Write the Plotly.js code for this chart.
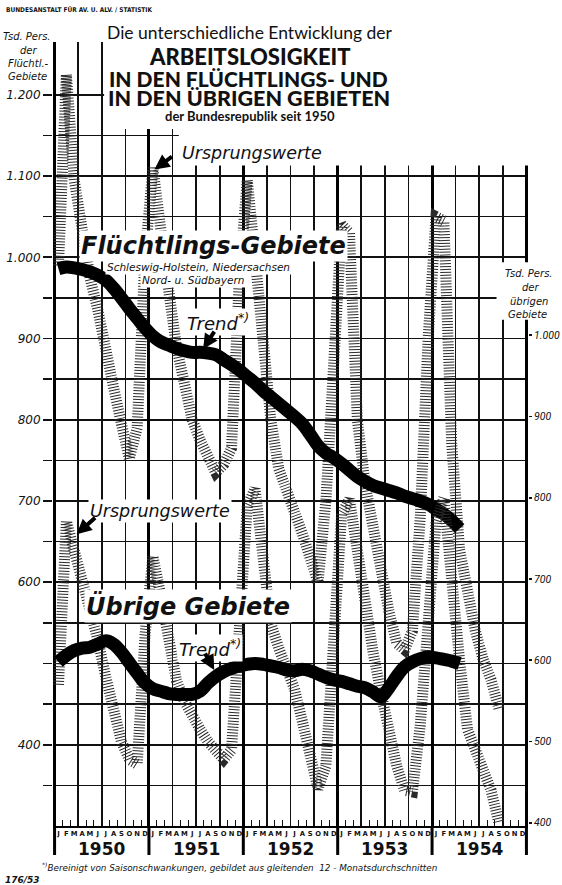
<!DOCTYPE html>
<html><head><meta charset="utf-8">
<script src="https://cdn.plot.ly/plotly-3.0.1.min.js"></script>
<style>html,body{margin:0;padding:0;background:#fff}#chart{width:562px;height:885px}</style>
</head><body><div id="chart"></div>
<script>
// ---- data (Tsd. Personen), monthly from Jan 1950 ----
const monthLetters = ['J','F','M','A','M','J','J','A','S','O','N','D'];
const years = ['1950','1951','1952','1953','1954'];

// Flüchtlings-Gebiete (left axis): original values Jan 1950 - Sep 1954
const fluechtOrig = [
 990,1225,1095,1030,975,935,880,840,795,752,790,1000,
 1110,1045,960,890,840,800,775,752,735,745,765,975,
 1095,1000,900,800,740,715,690,660,630,600,700,900,
 1040,1030,800,720,665,610,565,525,517,540,680,900,
 1050,1045,770,640,580,540,505,480,445];
// Flüchtlings-Gebiete trend (12-month moving average) Jan 1950 - Apr 1954
const fluechtTrend = [
 986,988,987,985,982,978,972,962,950,937,925,913,
 903,896,892,888,885,883,883,882,880,874,868,861,
 853,845,836,828,820,812,804,795,782,768,759,753,
 746,738,730,724,719,716,713,710,706,703,700,696,
 690,684,676,666];
// Übrige Gebiete (right axis): original values Jan 1950 - Sep 1954
const uebrigOrig = [
 570,771,735,700,670,625,580,535,500,478,472,630,
 728,680,620,575,550,530,515,500,487,478,490,650,
 790,811,720,645,615,592,565,525,485,442,470,650,
 780,798,730,660,610,560,510,470,440,438,520,660,
 770,800,690,600,515,485,465,440,400];
// Übrige Gebiete trend Jan 1950 - Apr 1954
const uebrigTrend = [
 598,606,612,615,616,620,624,620,610,597,584,572,
 565,562,559,558,558,558,562,572,580,586,590,593,
 595,596,595,593,591,588,587,589,587,583,579,576,
 574,571,568,566,561,555,566,580,592,598,602,604,
 603,601,599,596];

const leftTickVals  = [400,600,700,800,900,1000,1100,1200];
const leftTickText  = ['400','600','700','800','900','1.000','1.100','1.200'];
const rightTickVals = [400,500,600,700,800,900,1000];
const rightTickText = ['400','500','600','700','800','900','1.000'];

// ---- layout helpers ----
const W = 562, H = 885;
const M = {l: 53, r: 34, t: 42, b: 59};
const PW = W - M.l - M.r, PH = H - M.t - M.b;
const px = v => (v - M.l) / PW;
const py = v => (M.t + PH - v) / PH;
const nMonths = years.length * 12;
const xr = [-0.2, nMonths + 0.2];
const mx = arr => arr.map((_, i) => i + 0.5);

const ital = (size, extra) => Object.assign({family: 'DejaVu Sans', size: size, color: '#111', style: 'italic'}, extra || {});

// grid values for left axis every 50
const gridVals = [], gridText = [];
for (let v = 350; v <= 1200; v += 50) {
  gridVals.push(v);
  const k = leftTickVals.indexOf(v);
  gridText.push(k >= 0 ? leftTickText[k] : '');
}
const monthVals = [], monthText = [];
for (let i = 0; i < nMonths; i++) { monthVals.push(i + 0.5); monthText.push(monthLetters[i % 12]); }

const hatch = {color: '#2a2a2a', width: 11, dash: '1px,1.9px', shape: 'linear'};
const thick = {color: '#000', width: 13, shape: 'spline', smoothing: 1};

const traces = [
  {x: mx(fluechtOrig), y: fluechtOrig, xaxis: 'x', yaxis: 'y', mode: 'lines', line: hatch, hoverinfo: 'skip'},
  {x: mx(fluechtTrend), y: fluechtTrend, xaxis: 'x', yaxis: 'y', mode: 'lines', line: thick, hoverinfo: 'skip'},
  {x: mx(uebrigOrig), y: uebrigOrig, xaxis: 'x', yaxis: 'y2', mode: 'lines', line: hatch, hoverinfo: 'skip'},
  {x: mx(uebrigTrend), y: uebrigTrend, xaxis: 'x', yaxis: 'y2', mode: 'lines', line: thick, hoverinfo: 'skip'},
  {x: [], y: [], xaxis: 'x2', yaxis: 'y', mode: 'lines', hoverinfo: 'skip'},
  {x: [], y: [], xaxis: 'x3', yaxis: 'y', mode: 'lines', hoverinfo: 'skip'}
];

const ann = [];
const txt = (t, x, y, font, opts) => ann.push(Object.assign({text: t, xref: 'paper', yref: 'paper', x: px(x), y: py(y),
  xanchor: 'left', yanchor: 'middle', showarrow: false, font: font}, opts || {}));

txt('BUNDESANSTALT FÜR AV. U. ALV. / STATISTIK', 4, 10, {family: 'DejaVu Sans Condensed, DejaVu Sans', size: 6.5, weight: 'bold', color: '#111'});
const title = {family: 'Lato, DejaVu Sans', color: '#111'};
txt('Die unterschiedliche Entwicklung der', 250, 33, Object.assign({size: 17.5}, title), {xanchor: 'center'});
txt('ARBEITSLOSIGKEIT', 249, 57, Object.assign({size: 22, weight: 900}, title), {xanchor: 'center'});
txt('IN DEN FLÜCHTLINGS- UND', 248, 78, Object.assign({size: 21, weight: 900}, title), {xanchor: 'center'});
txt('IN DEN ÜBRIGEN GEBIETEN', 249, 98, Object.assign({size: 21.5, weight: 900}, title), {xanchor: 'center'});
txt('der Bundesrepublik seit 1950', 250, 116, Object.assign({size: 13, weight: 'bold'}, title), {xanchor: 'center'});

txt('Tsd. Pers.', 27, 37, ital(10), {xanchor: 'center'});
txt('der', 29, 50, ital(10), {xanchor: 'center'});
txt('Flüchtl.-', 28, 63, ital(10), {xanchor: 'center'});
txt('Gebiete', 27, 76, ital(10), {xanchor: 'center'});

txt('Tsd. Pers.', 529, 273, ital(10), {xanchor: 'center'});
txt('der', 531, 287, ital(10), {xanchor: 'center'});
txt('übrigen', 529, 301, ital(10), {xanchor: 'center'});
txt('Gebiete', 527, 314, ital(10), {xanchor: 'center'});

const wb = {bgcolor: '#fff', borderpad: 1};
txt('Flüchtlings-Gebiete', 79, 246, ital(24, {weight: 'bold'}), wb);
txt('Schleswig-Holstein, Niedersachsen', 105, 267, ital(10.5), wb);
txt('Nord- u. Südbayern', 140, 280, ital(10.5), wb);
txt('Ursprungswerte', 180, 153, ital(17.5), wb);
txt('Trend<sup>*)</sup>', 185, 322, ital(18), wb);
txt('Ursprungswerte', 88, 511, ital(17.5), wb);
txt('Übrige Gebiete', 84, 606, ital(24, {weight: 'bold'}), wb);
txt('Trend<sup>*)</sup>', 177, 648, ital(18), wb);
txt('<sup>*)</sup>Bereinigt von Saisonschwankungen, gebildet aus gleitenden  12 - Monatsdurchschnitten', 40, 867, ital(8.8));
txt('176/53', 3, 880, ital(9, {weight: 'bold'}));

// year labels through the x scale
years.forEach((yr, k) => ann.push({text: yr, xref: 'x', yref: 'paper', x: k * 12 + 6, y: py(849),
  xanchor: 'center', yanchor: 'middle', showarrow: false, font: {family: 'DejaVu Sans', size: 17, weight: 'bold', color: '#111'}}));

// arrows
const arrow = (x, y, yref, ax, ay) => ann.push({text: '', xref: 'x', yref: yref, x: x, y: y, ax: ax, ay: ay,
  showarrow: true, arrowhead: 2, arrowsize: 0.75, arrowwidth: 4, arrowcolor: '#000'});
arrow(12.7, 1108, 'y', 19, -14);
arrow(2.8, 755, 'y2', 20, -18);
arrow(18.9, 887, 'y', 12, -19);
arrow(20.3, 588, 'y2', -10, -18);

// white masks (between grid and traces)
const mask = (x0, x1, y0, y1) => ({type: 'rect', xref: 'x', yref: 'y', x0: x0, x1: x1, y0: y0, y1: y1,
  layer: 'between', fillcolor: '#fff', line: {width: 0}});
const shapes = [
  mask(6.3, 50, 1158, 1400),
  mask(15.8, 62, 1113, 1400),
  mask(56.2, 62, 923, 994)
];
// year separators extending below the axis
for (let k = 0; k <= years.length; k++) {
  shapes.push({type: 'line', xref: 'x', yref: 'paper', x0: k * 12, x1: k * 12, y0: py(855), y1: 0,
    line: {color: '#000', width: 3}, layer: 'above'});
}

const gridCol = '#111';
const layout = {
  width: W, height: H, margin: M, showlegend: false,
  paper_bgcolor: '#fff', plot_bgcolor: '#fff',
  xaxis: {range: xr, tickmode: 'array', tickvals: monthVals, ticktext: monthText, ticks: '', tickangle: 0,
    showgrid: false, zeroline: false, showline: true, linecolor: '#000', linewidth: 2,
    tickfont: {family: 'DejaVu Sans', size: 6.8, weight: 'bold', color: '#111'}},
  xaxis2: {overlaying: 'x', anchor: 'y', range: xr, tickmode: 'linear', tick0: 0, dtick: 3,
    showgrid: true, gridcolor: gridCol, gridwidth: 1.6, ticks: '', showticklabels: false, zeroline: false,
    minor: {tickmode: 'linear', tick0: 0, dtick: 1, ticks: 'inside', ticklen: 6, tickwidth: 1, tickcolor: '#111', showgrid: false}},
  xaxis3: {overlaying: 'x', anchor: 'y', range: xr, tickmode: 'linear', tick0: 0, dtick: 12,
    showgrid: true, gridcolor: '#000', gridwidth: 3, ticks: '', showticklabels: false, zeroline: false},
  yaxis: {range: [300, 1265], tickmode: 'array', tickvals: gridVals, ticktext: gridText, ticks: 'outside',
    ticklen: 9, tickwidth: 1.6, tickcolor: '#111', showgrid: true, gridcolor: gridCol, gridwidth: 1.6,
    zeroline: false, showline: false, tickfont: ital(12)},
  yaxis2: {overlaying: 'y', side: 'right', range: [396, 1361], tickmode: 'array', tickvals: rightTickVals,
    ticktext: rightTickText, ticks: 'outside', ticklen: 3, tickwidth: 1.6, tickcolor: '#111',
    showgrid: false, zeroline: false, showline: false,
    tickfont: ital(10.5, {family: 'Roboto'})},
  annotations: ann,
  shapes: shapes
};
Plotly.newPlot('chart', traces, layout, {staticPlot: true, displayModeBar: false});
</script>
</body></html>
